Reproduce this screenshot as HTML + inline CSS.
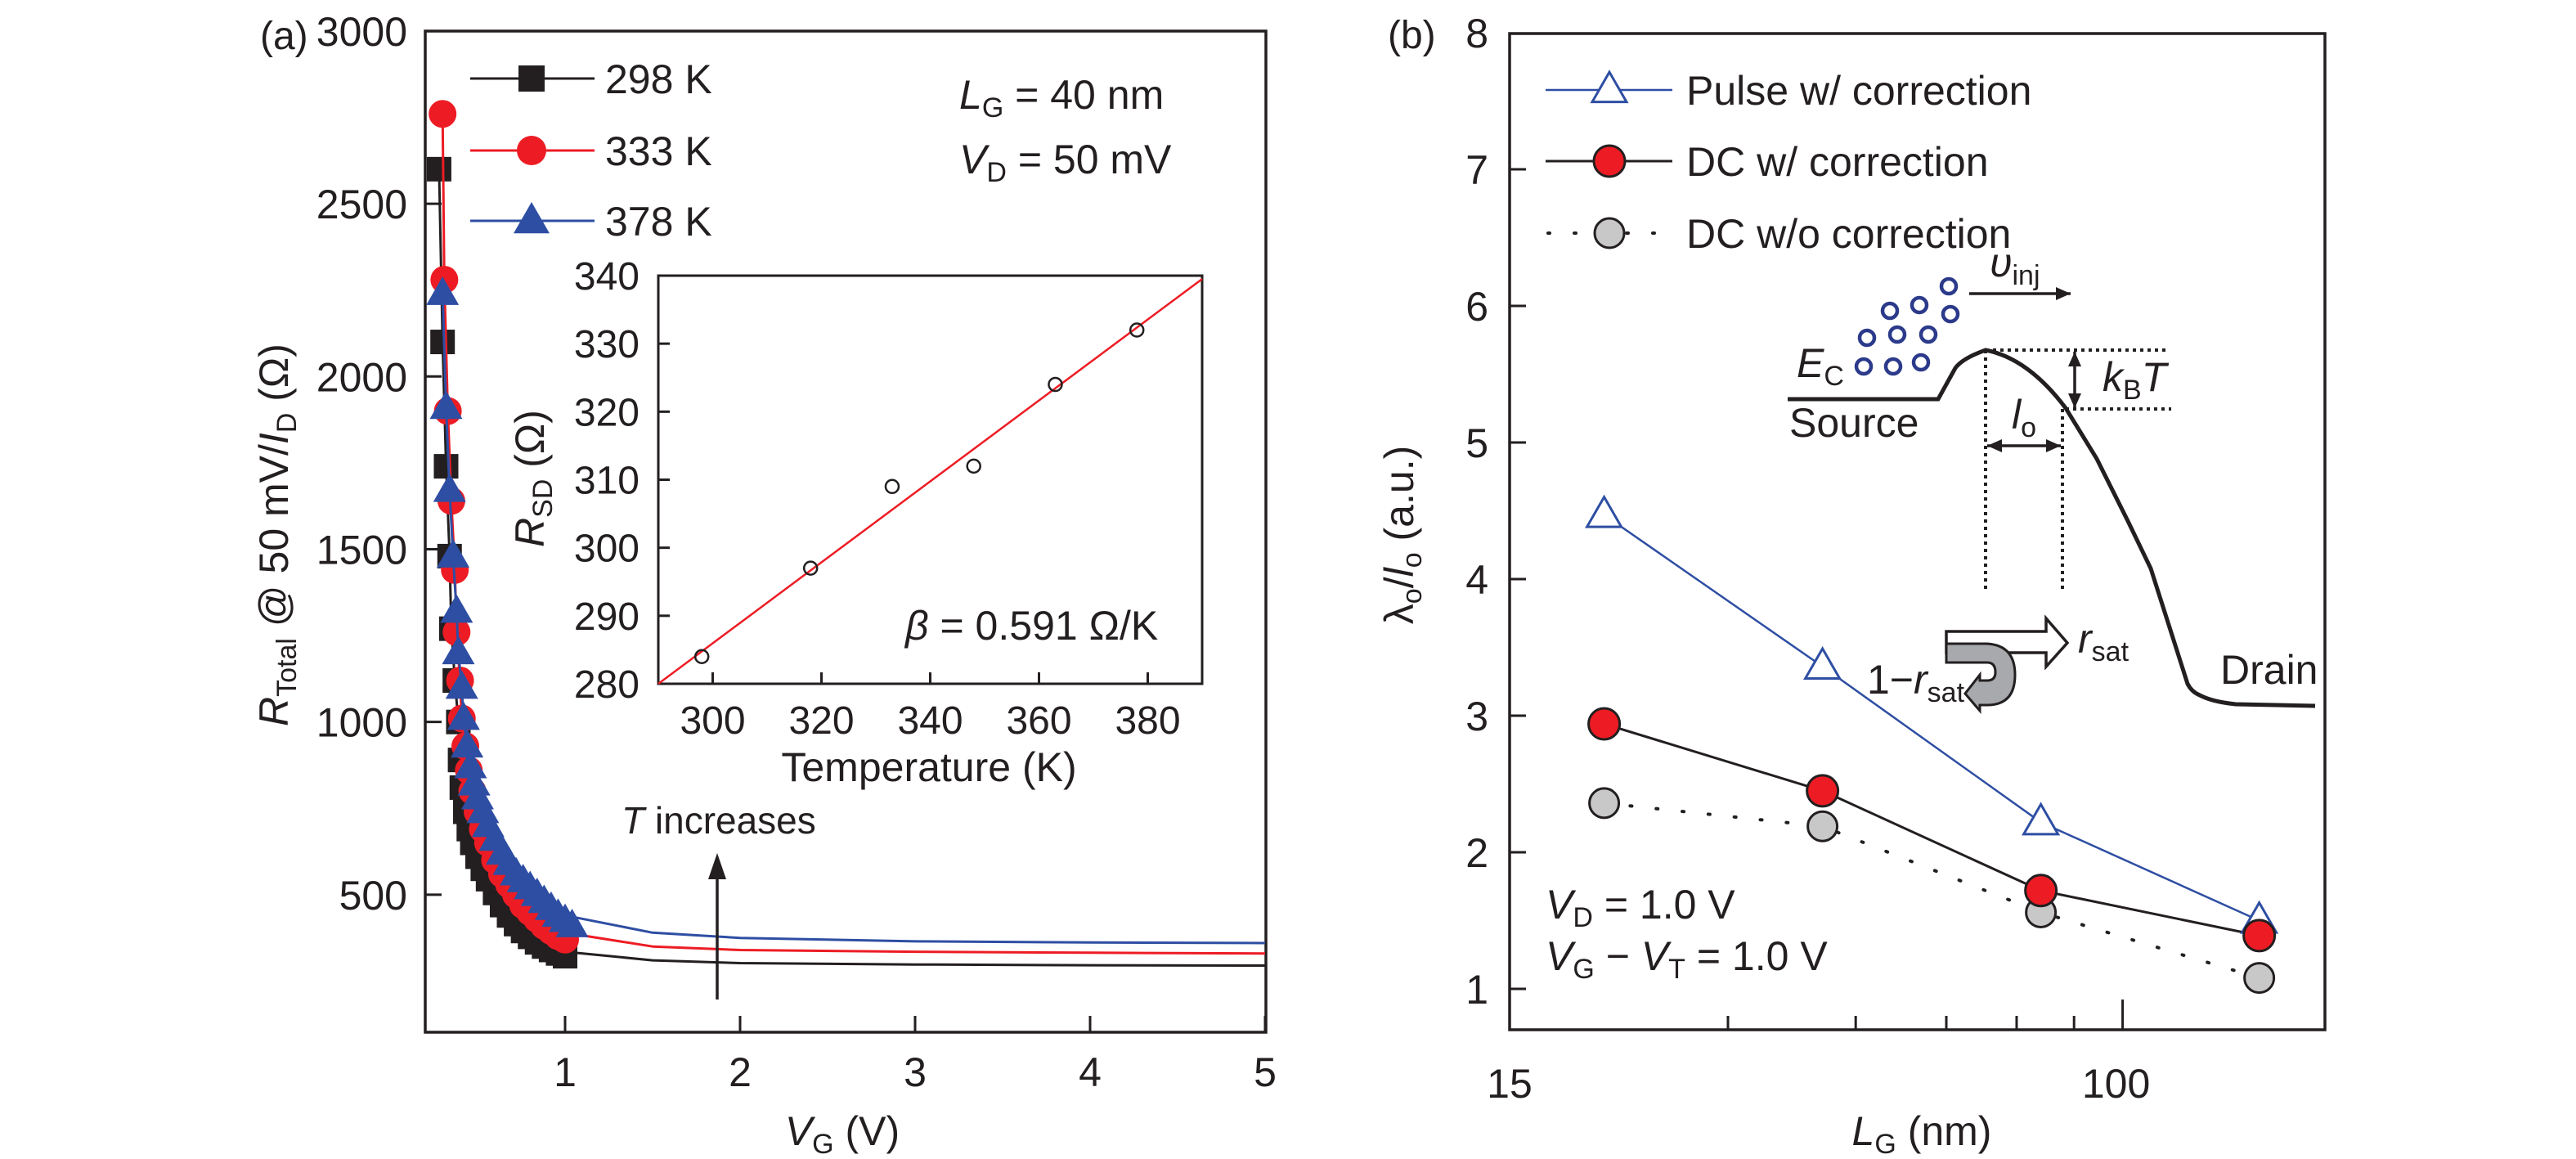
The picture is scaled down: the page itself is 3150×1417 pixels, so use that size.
<!DOCTYPE html>
<html><head><meta charset="utf-8"><style>
html,body{margin:0;padding:0;background:#fff;}
svg{display:block;}
text{font-family:"Liberation Sans",sans-serif;fill:#231f20;}
</style></head><body>
<svg id="fig" width="3150" height="1417" viewBox="0 0 3150 1417" xmlns="http://www.w3.org/2000/svg">
<g id="pa"></g>
<g id="pb"></g>
</svg>
<script>
// ---------- Panel (a) data ----------
const aXTicks = [1,2,3,4,5];
const aYTicks = [500,1000,1500,2000,2500,3000];
const bV = [0.28,0.30,0.32,0.34,0.35,0.37,0.39,0.40,0.41,0.43,0.45,0.47,0.50,0.53,0.56,0.60,0.64,0.68,0.72,0.76,0.80,0.84,0.88,0.92,0.96,1.0];
const bR = [2600,2100,1740,1480,1270,1120,1000,890,810,740,690,650,610,575,545,505,470,440,415,395,378,362,350,340,330,322];
const rV = [0.30,0.31,0.33,0.35,0.37,0.38,0.40,0.41,0.43,0.45,0.47,0.50,0.53,0.56,0.60,0.64,0.68,0.72,0.76,0.80,0.84,0.88,0.92,0.96,1.0];
const rR = [2760,2280,1900,1640,1440,1260,1120,1010,930,860,800,740,690,650,600,560,530,500,470,450,430,410,395,380,370];
const uV = [0.30,0.32,0.34,0.36,0.38,0.39,0.41,0.42,0.44,0.46,0.48,0.50,0.53,0.56,0.60,0.64,0.68,0.72,0.76,0.80,0.84,0.88,0.92,0.96,1.0,1.04];
const uR = [2240,1910,1670,1480,1320,1200,1100,1010,930,870,820,780,740,700,660,620,590,560,540,520,500,480,460,440,425,410];
const fitBV = [0.56,0.70,0.85,1.0,1.5,2,3,4,5];
const fitBR = [560,420,360,335,310,302,298,296,295];
const fitRV = [0.60,0.70,0.85,1.0,1.5,2,3,4,5];
const fitRR = [700,520,430,390,350,340,335,332,330];
const fitUV = [1.0,1.5,2,3,4,5];
const fitUR = [440,390,375,365,362,360];
// inset
const insT = [298,318,333,348,363,378];
const insR = [284,297,309,312,324,332];
const insXTicks = [300,320,340,360,380];
const insYTicks = [280,290,300,310,320,330,340];
const insFitT = [290,390];
const insFitR = [280,339.5];
// ---------- Panel (b) data ----------
const lg = [13.5,27,54,108];
const pulse = [4.47,3.36,2.22,1.50];
const dcw = [2.94,2.45,1.72,1.39];
const dcwo = [2.36,2.19,1.56,1.08];
const bYTicks = [1,2,3,4,5,6,7,8];
const bXMinor = [20,30,40,50,60];
const bXMajor = [10,70];
const bXLabels = ["15","100"];

const NS="http://www.w3.org/2000/svg";
function mk(parent,tag,attrs,txt){const e=document.createElementNS(NS,tag);for(const k in attrs)e.setAttribute(k,attrs[k]);if(txt!==undefined)e.textContent=txt;parent.appendChild(e);return e;}
function txt(parent,x,y,html,size,anchor,extra){const e=document.createElementNS(NS,'text');e.setAttribute('x',x);e.setAttribute('y',y);e.setAttribute('font-size',size||50);if(anchor)e.setAttribute('text-anchor',anchor);if(extra)for(const k in extra)e.setAttribute(k,extra[k]);e.innerHTML=html;parent.appendChild(e);return e;}

const pa=document.getElementById('pa');
const ax=v=>477+214*v;
const ay=r=>1262-(r-102)*0.4224;
let fr=mk(pa,'rect',{x:520,y:38,width:1028,height:1224,fill:'none',stroke:'#231f20','stroke-width':3.5});

aXTicks.forEach(v=>{
 let l=mk(pa,'line',{x1:ax(v),x2:ax(v),y1:1262,y2:1242,stroke:'#231f20','stroke-width':3});
 
 let t=txt(pa,ax(v),1328,String(v),50,'middle');
 
});
aYTicks.forEach(v=>{
 if(v<3000){let l=mk(pa,'line',{x1:520,x2:540,y1:ay(v),y2:ay(v),stroke:'#231f20','stroke-width':3});
 }
 let t=txt(pa,498,ay(v)+18,String(v),50,'end');
 
});
function poly(parent,xs,ys,fx,fy,color,w,name){
 const d=xs.map((x,i)=>(i?'L':'M')+fx(x).toFixed(1)+' '+fy(ys[i]).toFixed(1)).join(' ');
 const p=mk(parent,'path',{d:d,fill:'none',stroke:color,'stroke-width':w,'stroke-linejoin':'round'});
 return p;}
const BK='#231f20',RD='#ed1c24',BL='#2e4ea3';
function square(p,x,y,s,name){const e=mk(p,'rect',{x:x-s/2,y:y-s/2,width:s,height:s,fill:BK});}
function circ(p,x,y,r,fill,stroke,sw,name){const e=mk(p,'circle',{cx:x,cy:y,r:r,fill:fill,stroke:stroke||'none','stroke-width':sw||0});}
function tri(p,x,y,s,fill,stroke,sw,name){const h=s*0.87;const e=mk(p,'polygon',{points:`${x},${y-h*0.6} ${x-s/2},${y+h*0.4} ${x+s/2},${y+h*0.4}`,fill:fill,stroke:stroke||'none','stroke-width':sw||0,'stroke-linejoin':'miter'});}
poly(pa,bV,bR,ax,ay,BK,3,'line-298k');
poly(pa,fitBV,fitBR,ax,ay,BK,3,'fit-298k');
bV.forEach((v,i)=>square(pa,ax(v),ay(bR[i]),30,'marker-298k'));
poly(pa,rV,rR,ax,ay,RD,3,'line-333k');
poly(pa,fitRV,fitRR,ax,ay,RD,3,'fit-333k');
rV.forEach((v,i)=>circ(pa,ax(v),ay(rR[i]),17,RD,null,0,'marker-333k'));
poly(pa,uV,uR,ax,ay,BL,3,'line-378k');
poly(pa,fitUV,fitUR,ax,ay,BL,3,'fit-378k');
uV.forEach((v,i)=>tri(pa,ax(v),ay(uR[i]),40,BL,null,0,'marker-378k'));
const legA=[[96,'298 K',BK,'s'],[184,'333 K',RD,'c'],[270,'378 K',BL,'t']];
legA.forEach(([y,l,c,m])=>{
 let g=mk(pa,'g',{});
 mk(g,'line',{x1:575,x2:727,y1:y,y2:y,stroke:c,'stroke-width':3});
 if(m=='s')square(g,650,y,32,'legend-marker');else if(m=='c')circ(g,650,y,18,c,null,0,'legend-marker');else tri(g,650,y,44,c,null,0,'legend-marker');
 txt(g,740,y+18,l,50);
});
let t1=txt(pa,1173,133,'<tspan font-style="italic">L</tspan><tspan font-size="34" dy="10">G</tspan><tspan dy="-10"> = 40 nm</tspan>',50);

let t2=txt(pa,1173,212,'<tspan font-style="italic">V</tspan><tspan font-size="34" dy="10">D</tspan><tspan dy="-10"> = 50 mV</tspan>',50);

let pl=txt(pa,318,60,'(a)',48);
let xt=txt(pa,1030,1400,'<tspan font-style="italic">V</tspan><tspan font-size="34" dy="10">G</tspan><tspan dy="-10"> (V)</tspan>',50,'middle');

let yt=txt(pa,0,0,'<tspan font-style="italic">R</tspan><tspan font-size="34" dy="10">Total</tspan><tspan dy="-10"> @ 50 mV/</tspan><tspan font-style="italic">I</tspan><tspan font-size="34" dy="10">D</tspan><tspan dy="-10"> (Ω)</tspan>',50,'middle',{transform:'translate(352,654) rotate(-90)'});

let ti=txt(pa,760,1019,'<tspan font-style="italic">T</tspan> increases',46);

let ar=mk(pa,'line',{x1:877,x2:877,y1:1222,y2:1070,stroke:BK,'stroke-width':3.5});
let ah=mk(pa,'polygon',{points:'877,1043 866,1075 888,1075',fill:BK});
const ins=mk(pa,'g',{});
const ix=t=>805+(t-290)*6.65;
const iy=r=>836-(r-280)*8.317;
let ifr=mk(ins,'rect',{x:805,y:337,width:665,height:499,fill:'#fff',stroke:BK,'stroke-width':3});
insXTicks.forEach(v=>{let l=mk(ins,'line',{x1:ix(v),x2:ix(v),y1:836,y2:822,stroke:BK,'stroke-width':3});
 let t=txt(ins,ix(v),897,String(v),48,'middle');});
insYTicks.forEach(v=>{if(v>280&&v<340){let l=mk(ins,'line',{x1:805,x2:819,y1:iy(v),y2:iy(v),stroke:BK,'stroke-width':3});}
 let t=txt(ins,782,iy(v)+17,String(v),48,'end');});
poly(ins,insFitT,insFitR,ix,iy,RD,2.5,'inset-fit-line');
insT.forEach((t,i)=>circ(ins,ix(t),iy(insR[i]),8,'none',BK,2.5,'inset-point'));
let itx=txt(ins,1136,955,'Temperature (K)',50,'middle');
let ity=txt(ins,0,0,'<tspan font-style="italic">R</tspan><tspan font-size="34" dy="10">SD</tspan><tspan dy="-10"> (Ω)</tspan>',50,'middle',{transform:'translate(665,585) rotate(-90)'});
let bt=txt(ins,1107,782,'<tspan font-style="italic">β</tspan> = 0.591 Ω/K',50);

// ---------- Panel (b) ----------
const pb=document.getElementById('pb');
const bx=v=>2113+887*Math.log10(v/20);
const by=v=>1209-(v-1)*167;
let fb=mk(pb,'rect',{x:1846,y:41,width:997,height:1218,fill:'none',stroke:BK,'stroke-width':3.5});
bYTicks.forEach(v=>{if(v<8){let l=mk(pb,'line',{x1:1846,x2:1866,y1:by(v),y2:by(v),stroke:BK,'stroke-width':3});}
 let t=txt(pb,1820,by(v)+18,String(v),50,'end');});
bXMinor.forEach(v=>{let l=mk(pb,'line',{x1:bx(v),x2:bx(v),y1:1259,y2:1242,stroke:BK,'stroke-width':3});});
bXMajor.forEach((v,i)=>{if(v>10){let l=mk(pb,'line',{x1:bx(v),x2:bx(v),y1:1259,y2:1222,stroke:BK,'stroke-width':3});}
 let t=txt(pb,bx(v)-(i?8:0),1342,bXLabels[i],50,'middle');});
let dl=poly(pb,lg,dcwo,bx,by,BK,4,'line-dc-without-correction');dl.setAttribute('stroke-dasharray','2 30');dl.setAttribute('stroke-linecap','round');
poly(pb,lg,pulse,bx,by,BL,2.5,'line-pulse');
poly(pb,lg,dcw,bx,by,BK,3,'line-dc-with-correction');
lg.forEach((v,i)=>circ(pb,bx(v),by(dcwo[i]),18,'#c8c8c8',BK,3,'marker-dc-without'));
lg.forEach((v,i)=>tri(pb,bx(v),by(pulse[i]),42,'#fff',BL,3,'marker-pulse'));
lg.forEach((v,i)=>circ(pb,bx(v),by(dcw[i]),19,RD,BK,3,'marker-dc-with'));
const lgB=[[110,'Pulse w/ correction','p'],[197,'DC w/ correction','r'],[285,'DC w/o correction','g']];
lgB.forEach(([y,l,m])=>{let g=mk(pb,'g',{});
 if(m=='p'){mk(g,'line',{x1:1890,x2:2045,y1:y,y2:y,stroke:BL,'stroke-width':2.5});tri(g,1968,y,42,'#fff',BL,3,'legend-marker');}
 else if(m=='r'){mk(g,'line',{x1:1890,x2:2045,y1:y,y2:y,stroke:BK,'stroke-width':3});circ(g,1968,y,19,RD,BK,3,'legend-marker');}
 else{mk(g,'line',{x1:1893,x2:2045,y1:y,y2:y,stroke:BK,'stroke-width':4,'stroke-dasharray':'2 30','stroke-linecap':'round'});circ(g,1968,y,18,'#c8c8c8',BK,3,'legend-marker');}
 txt(g,2062,y+18,l,50);});
let plb=txt(pb,1697,59,'(b)',48);
let xtb=txt(pb,2350,1400,'<tspan font-style="italic">L</tspan><tspan font-size="34" dy="10">G</tspan><tspan dy="-10"> (nm)</tspan>',50,'middle');
let ytb=txt(pb,0,0,'λ<tspan font-size="34" dy="10">o</tspan><tspan dy="-10">/</tspan><tspan font-style="italic">l</tspan><tspan font-size="34" dy="10">o</tspan><tspan dy="-10"> (a.u.)</tspan>',50,'middle',{transform:'translate(1728,654) rotate(-90)'});
let vd=txt(pb,1890,1123,'<tspan font-style="italic">V</tspan><tspan font-size="34" dy="10">D</tspan><tspan dy="-10"> = 1.0 V</tspan>',50);
let vg=txt(pb,1890,1186,'<tspan font-style="italic">V</tspan><tspan font-size="34" dy="10">G</tspan><tspan dy="-10"> − </tspan><tspan font-style="italic">V</tspan><tspan font-size="34" dy="10">T</tspan><tspan dy="-10"> = 1.0 V</tspan>',50);
// band diagram
const dg=mk(pb,'g',{});
let band=mk(dg,'path',{d:'M2186 488 L2370 488 L2391 450 Q2400 438 2428 428 Q2480 438 2526 499 L2564 561 L2602 637 L2630 695 L2675 836 Q2680 846 2690 850 Q2705 858 2734 861 L2831 863',fill:'none',stroke:BK,'stroke-width':5});

[[2428,428,2653,428],[2526,500,2655,500],[2428,428,2428,725],[2522,500,2522,725]].forEach(([a,b,c,d])=>{let l=mk(dg,'line',{x1:a,y1:b,x2:c,y2:d,stroke:BK,'stroke-width':4,'stroke-dasharray':'4 5'});});
function arrowLine(p,x1,y1,x2,y2,both,name){let l=mk(p,'line',{x1,y1,x2,y2,stroke:BK,'stroke-width':3.5});
 const ang=Math.atan2(y2-y1,x2-x1);const head=(x,y,a)=>{const h=mk(p,'polygon',{points:`${x},${y} ${x-18*Math.cos(a)+8*Math.sin(a)},${y-18*Math.sin(a)-8*Math.cos(a)} ${x-18*Math.cos(a)-8*Math.sin(a)},${y-18*Math.sin(a)+8*Math.cos(a)}`,fill:BK});};
 head(x2,y2,ang);if(both)head(x1,y1,ang+Math.PI);}
arrowLine(dg,2537,430,2537,499,true,'kbt-arrow');
arrowLine(dg,2430,545,2520,545,true,'lo-arrow');
arrowLine(dg,2408,359,2532,359,false,'vinj-arrow');
[[2383,350],[2311,380],[2347,373],[2385,384],[2283,413],[2320,409],[2358,409],[2279,448],[2315,448],[2349,443]].forEach(([x,y])=>circ(dg,x,y,9,'none','#2b3a8a',4.5,'carrier-electron'));
let ec=txt(dg,2197,461,'<tspan font-style="italic">E</tspan><tspan font-size="34" dy="10">C</tspan>',50);
let src=txt(dg,2188,534,'Source',50);
let drn=txt(dg,2715,836,'Drain',50);
let kb=txt(dg,2571,478,'<tspan font-style="italic">k</tspan><tspan font-size="34" dy="10">B</tspan><tspan dy="-10" font-style="italic">T</tspan>',50);
let lo=txt(dg,2460,524,'<tspan font-style="italic">l</tspan><tspan font-size="34" dy="10">o</tspan>',50);
let vi=txt(dg,2433,338,'<tspan font-style="italic">υ</tspan><tspan font-size="34" dy="10">inj</tspan>',50);
let ha=mk(dg,'path',{d:'M2380 772 L2502 772 L2502 756 L2528 786 L2502 815 L2502 798 L2380 798 Z',fill:'#fff',stroke:BK,'stroke-width':3.5,'stroke-linejoin':'miter'});
let ga=mk(dg,'path',{d:'M2380 787 L2430 787 Q2464 789 2464 825 Q2464 862 2430 862 L2421 862 L2421 869 L2403 848 L2421 825 L2421 832 L2430 832 Q2440 832 2440 822 Q2440 810 2430 810 L2380 810 Z',fill:'#a7a9ac',stroke:BK,'stroke-width':3});
let rs=txt(dg,2541,798,'<tspan font-style="italic">r</tspan><tspan font-size="34" dy="10">sat</tspan>',50);
let rs1=txt(dg,2283,848,'1−<tspan font-style="italic">r</tspan><tspan font-size="34" dy="10">sat</tspan>',50);
</script>
</body></html>
